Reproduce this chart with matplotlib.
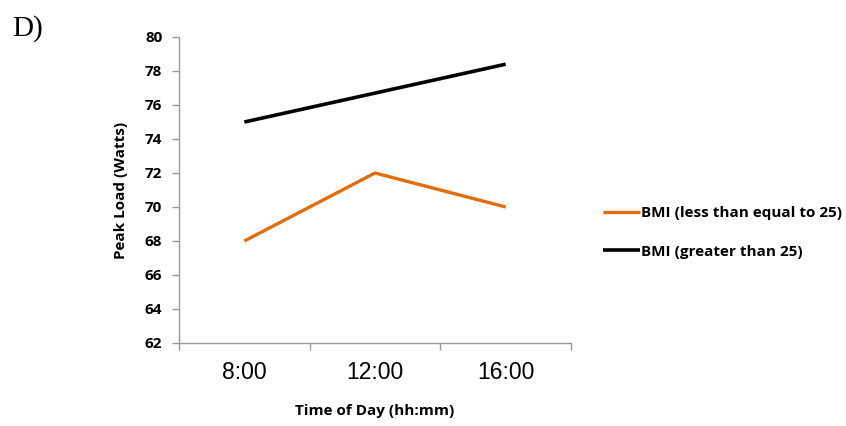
import matplotlib
matplotlib.use("Agg")
import matplotlib.pyplot as plt
from matplotlib.lines import Line2D

categories = ["8:00", "12:00", "16:00"]
bmi_le25 = [68, 72, 70]
bmi_gt25 = [75, 76.7, 78.4]
series_labels = ["BMI (less than equal to 25)", "BMI (greater than 25)"]
y_ticks = [62, 64, 66, 68, 70, 72, 74, 76, 78, 80]

fig = plt.figure(figsize=(8.46, 4.26), dpi=100)
ax = fig.add_axes([179/846, 1-343/426, (571-179)/846, (343-37)/426])

x = list(range(len(categories)))
l1, = ax.plot(x, bmi_le25, color="#E46C0A", lw=2.4, solid_capstyle="butt")
l2, = ax.plot(x, bmi_gt25, color="black", lw=2.6, solid_capstyle="butt")

ax.set_xlim(-0.5, len(categories) - 0.5)
ax.set_ylim(62, 80)
ax.set_yticks(y_ticks)
ax.set_yticklabels([str(v) for v in y_ticks], fontsize=11, fontweight="bold", family="Open Sans")
ax.set_xticks(x)
ax.set_xticklabels(categories, fontsize=16.5, family="Liberation Sans")
ax.set_xticks([i - 0.5 for i in range(len(categories) + 1)], minor=True)
ax.tick_params(axis="x", which="major", length=0, pad=13)
ax.tick_params(axis="x", which="minor", length=5, color="#999999", width=1)
ax.tick_params(axis="y", length=5, color="#999999", width=1, pad=7)

for s in ["top", "right"]:
    ax.spines[s].set_visible(False)
for s in ["left", "bottom"]:
    ax.spines[s].set_color("#999999")
    ax.spines[s].set_linewidth(1)

ax.set_ylabel("Peak Load (Watts)", fontsize=11, fontweight="bold", family="Open Sans", labelpad=12)
ax.set_xlabel("Time of Day (hh:mm)", fontsize=11, fontweight="bold", family="Open Sans", labelpad=14)

fig.legend([l1, l2], series_labels, loc="upper left", bbox_to_anchor=(597/846, 1-200/426),
           frameon=False, prop={"family": "Open Sans", "weight": "bold", "size": 11},
           handlelength=2.4, handletextpad=0.1, labelspacing=1.6, borderaxespad=0)

fig.text(12/846, 1-29/426, "D)", fontsize=21, family="Liberation Serif", va="center", ha="left")

fig.savefig("out.png", dpi=100)
